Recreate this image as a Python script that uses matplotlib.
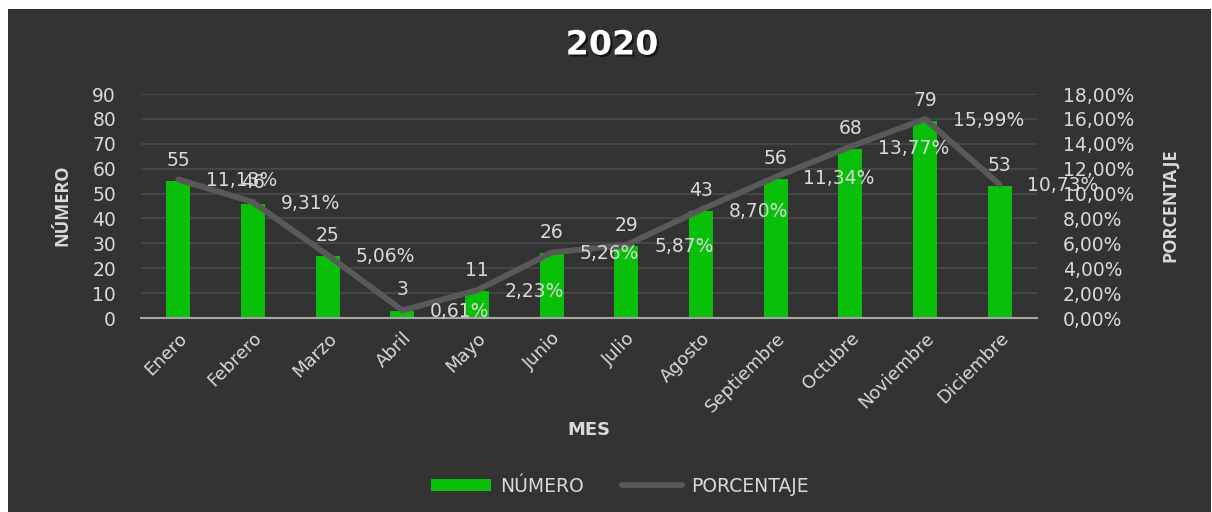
import matplotlib
matplotlib.use("Agg")
import matplotlib.pyplot as plt
import matplotlib.patheffects as pe
from matplotlib.patches import Rectangle
from matplotlib.lines import Line2D
from matplotlib.ticker import FuncFormatter, MultipleLocator

months = ["Enero", "Febrero", "Marzo", "Abril", "Mayo", "Junio", "Julio",
          "Agosto", "Septiembre", "Octubre", "Noviembre", "Diciembre"]
numero = [55, 46, 25, 3, 11, 26, 29, 43, 56, 68, 79, 53]
porcentaje = [11.13, 9.31, 5.06, 0.61, 2.23, 5.26, 5.87, 8.70, 11.34, 13.77, 15.99, 10.73]

BG = "#333333"
TXT = "#d9d9d9"
GREEN = "#0abf0a"
LINEC = "#595959"
FS = 13.5
plt.rcParams['font.family'] = ['DejaVu Sans']

fig = plt.figure(figsize=(12.12, 5.12), dpi=100, facecolor="white")
fig.patches.append(Rectangle((8/1212, 0), 1 - 9/1212, 1 - 9/512, transform=fig.transFigure,
                             facecolor=BG, edgecolor="none", zorder=-10))

ax = fig.add_axes([141/1212, 1 - 318/512, (1037-141)/1212, (318-94)/512])
ax.set_facecolor(BG)
ax.patch.set_alpha(0)
x = list(range(len(months)))
ax.bar(x, numero, width=0.32, color=GREEN, zorder=3)
ax.set_xlim(-0.5, len(months) - 0.5)
ax.set_ylim(0, 90)
ax.yaxis.set_major_locator(MultipleLocator(10))
ax.grid(axis="y", color="#4a4a4a", linewidth=1.2, zorder=0)
ax.set_axisbelow(True)
for s in ["top", "right", "left"]:
    ax.spines[s].set_visible(False)
ax.spines["bottom"].set_color("#a6a6a6")
ax.spines["bottom"].set_linewidth(1.5)
ax.spines["bottom"].set_zorder(4)
ax.tick_params(axis="both", length=0, colors=TXT, labelsize=FS)
ax.tick_params(axis="y", pad=18)
ax.set_xticks(x)
ax.set_xticklabels(months, rotation=45, ha="right", rotation_mode="anchor", fontsize=13)
ax.tick_params(axis="x", pad=8)
for xi, v in zip(x, numero):
    ax.annotate(str(v), (xi, v), xytext=(0, 8), textcoords="offset points",
                ha="center", va="bottom", color=TXT, fontsize=FS, zorder=6)

ax2 = ax.twinx()
ax2.set_ylim(0, 18)
ax2.yaxis.set_major_locator(MultipleLocator(2))
ax2.yaxis.set_major_formatter(FuncFormatter(lambda v, p: f"{v:.2f}".replace(".", ",") + "%"))
for s in ["top", "right", "left", "bottom"]:
    ax2.spines[s].set_visible(False)
ax2.tick_params(axis="y", length=0, colors=TXT, labelsize=FS, pad=18.5)
ax2.plot(x, porcentaje, color=LINEC, linewidth=4.2, solid_capstyle="round",
         solid_joinstyle="round", zorder=5)
for xi, v in zip(x, porcentaje):
    ax2.annotate(f"{v:.2f}".replace(".", ",") + "%", (xi, v), xytext=(20, -1),
                 textcoords="offset points", ha="left", va="center",
                 color=TXT, fontsize=FS, zorder=6)

fig.text(612/1212, 1 - 45/512, "2020", ha="center", va="center", color="white",
         fontsize=24, fontweight="bold",
         path_effects=[pe.withSimplePatchShadow(offset=(1.5, -1.5), shadow_rgbFace="black", alpha=0.6)])
fig.text(62/1212, 1 - 205/512, "NÚMERO", rotation=90, ha="center", va="center",
         color=TXT, fontsize=13, fontweight="bold", family=["Open Sans", "DejaVu Sans"])
fig.text(1170/1212, 1 - 205/512, "PORCENTAJE", rotation=90, ha="center", va="center",
         color=TXT, fontsize=13, fontweight="bold", family=["Open Sans", "DejaVu Sans"])
fig.text(589/1212, 1 - 430/512, "MES", ha="center", va="center",
         color=TXT, fontsize=13, fontweight="bold")

handles = [Rectangle((0, 0), 1, 1, facecolor=GREEN, edgecolor="none"),
           Line2D([0], [0], color=LINEC, linewidth=4.2, solid_capstyle="round")]
leg = fig.legend(handles, ["NÚMERO", "PORCENTAJE"], loc="center",
                 bbox_to_anchor=(620/1212, 1 - 486/512), ncol=2, frameon=False,
                 fontsize=FS, labelcolor=TXT, handlelength=3.2, handleheight=0.6,
                 columnspacing=2.0, handletextpad=0.5)

fig.savefig("out.png", dpi=100, facecolor="white")
